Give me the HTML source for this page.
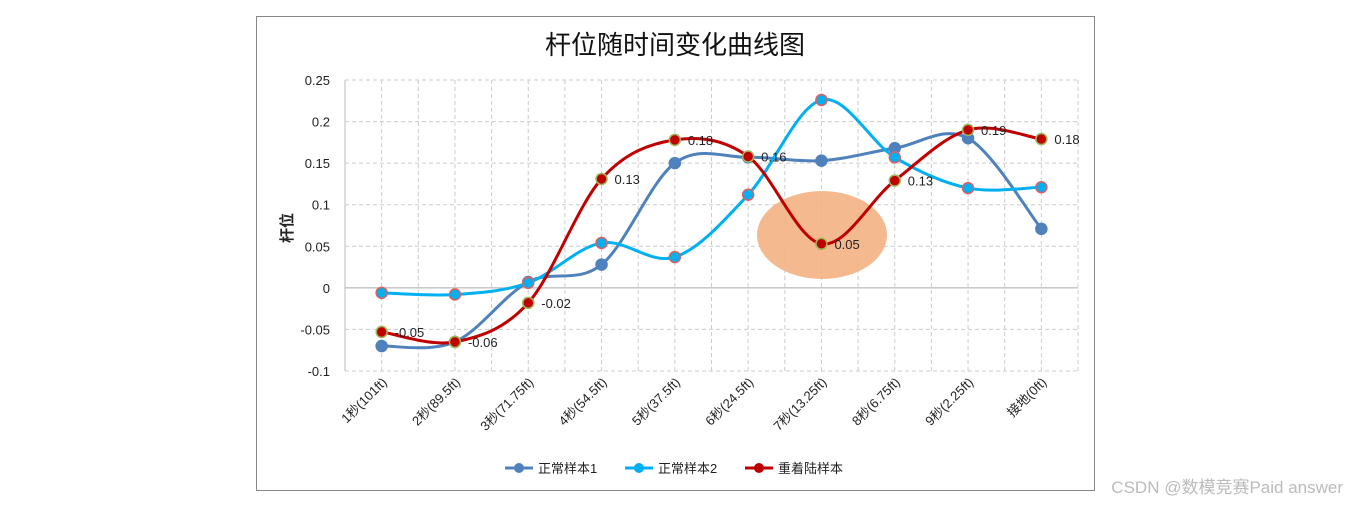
<!DOCTYPE html>
<html><head><meta charset="utf-8"><style>
body{margin:0;background:#fff;}
svg text{font-family:"Liberation Sans","Noto Sans CJK SC",sans-serif;}
</style></head><body>
<svg width="1359" height="506" viewBox="0 0 1359 506">
<rect x="256.5" y="16.5" width="838" height="474" fill="#fff" stroke="#888"/>
<text x="675" y="54" font-size="26" text-anchor="middle" font-family="Liberation Serif,'Noto Serif CJK SC',serif" fill="#111">杆位随时间变化曲线图</text>
<text transform="translate(292,228) rotate(-90)" font-size="15" text-anchor="middle" font-weight="bold" fill="#222" font-family="'Noto Serif CJK SC',serif">杆位</text>
<g id="grid"></g><g id="yt"></g><g id="xt"></g>
<ellipse cx="822" cy="235" rx="65" ry="44" fill="#F4B183" opacity="0.9"/>
<g id="series"></g>
<g font-size="13" fill="#222">
<line x1="505" y1="468" x2="533" y2="468" stroke="#4F81BD" stroke-width="3"/><circle cx="519" cy="468" r="5" fill="#4F81BD"/><text x="538" y="473">正常样本1</text>
<line x1="625" y1="468" x2="653" y2="468" stroke="#00B0F0" stroke-width="3"/><circle cx="639" cy="468" r="5" fill="#00B0F0"/><text x="658" y="473">正常样本2</text>
<line x1="745" y1="468" x2="773" y2="468" stroke="#C00000" stroke-width="3"/><circle cx="759" cy="468" r="5" fill="#C00000"/><text x="778" y="473">重着陆样本</text>
</g>
<text x="1343" y="493" font-size="17" fill="#bbb" text-anchor="end">CSDN @数模竞赛Paid answer</text>
</svg>
<script>
const categories=["1秒(101ft)","2秒(89.5ft)","3秒(71.75ft)","4秒(54.5ft)","5秒(37.5ft)","6秒(24.5ft)","7秒(13.25ft)","8秒(6.75ft)","9秒(2.25ft)","接地(0ft)"];
const s1=[-0.07,-0.065,0.007,0.028,0.15,0.157,0.153,0.168,0.18,0.071];
const s2=[-0.006,-0.008,0.006,0.054,0.037,0.112,0.226,0.157,0.12,0.121];
const s3=[-0.053,-0.065,-0.018,0.131,0.178,0.158,0.053,0.129,0.19,0.179];
const s3labels=["-0.05","-0.06","-0.02","0.13","0.18","0.16","0.05","0.13","0.19","0.18"];
const yTicks=[0.25,0.2,0.15,0.1,0.05,0,-0.05,-0.1];
const yTickLabels=["0.25","0.2","0.15","0.1","0.05","0","-0.05","-0.1"];
const L=345,R=1078,T=80,B=371,ymin=-0.1,ymax=0.25;
const step=(R-L)/categories.length;
const X=i=>L+step*(i+0.5);
const Y=v=>B-(v-ymin)/(ymax-ymin)*(B-T);
const NS="http://www.w3.org/2000/svg";
function mk(t,a,p){const e=document.createElementNS(NS,t);for(const k in a)e.setAttribute(k,a[k]);p.appendChild(e);return e;}
const g=document.getElementById('grid');
for(let k=0;k<=categories.length*2;k++){const x=L+k*step/2;
const l=mk('line',{x1:x,x2:x,y1:T,y2:B,stroke:k==0?'#bbb':'#ccc','stroke-dasharray':k==0?'':'4,3'},g);

}
const yt=document.getElementById('yt');
yTicks.forEach((v,i)=>{const l=mk('line',{x1:L,x2:R,y1:Y(v),y2:Y(v),stroke:v==0?'#aaa':'#ccc','stroke-dasharray':v==0?'':'4,3'},g);


const t=mk('text',{x:330,y:Y(v)+5,'font-size':13,'text-anchor':'end',fill:'#222'},yt);t.textContent=yTickLabels[i];

});
const xt=document.getElementById('xt');
categories.forEach((c,i)=>{const t=mk('text',{transform:`translate(${X(i)+6},${B+12}) rotate(-45)`,'font-size':13,'text-anchor':'end',fill:'#222'},xt);t.textContent=c;

});
function path(vals){const p=vals.map((v,i)=>[X(i),Y(v)]);let d=`M${p[0][0]},${p[0][1]}`;
for(let i=0;i<p.length-1;i++){const p0=p[i-1]||p[i],p1=p[i],p2=p[i+1],p3=p[i+2]||p2;const t=6;
d+=` C${p1[0]+(p2[0]-p0[0])/t},${p1[1]+(p2[1]-p0[1])/t} ${p2[0]-(p3[0]-p1[0])/t},${p2[1]-(p3[1]-p1[1])/t} ${p2[0]},${p2[1]}`;}return d;}
const sg=document.getElementById('series');
[[s1,'#4F81BD','#4F81BD','series-1'],[s2,'#00B0F0','#E06060','series-2'],[s3,'#C00000','#9BBB59','series-3']].forEach(([vals,col,bd,name])=>{
const p=mk('path',{d:path(vals),fill:'none',stroke:col,'stroke-width':3},sg);


vals.forEach((v,i)=>{const c=mk('circle',{cx:X(i),cy:Y(v),r:5.5,fill:col,stroke:bd,'stroke-width':1.5},sg);

});});
s3.forEach((v,i)=>{const t=mk('text',{x:X(i)+13,y:Y(v)+5,'font-size':13,fill:'#222'},sg);t.textContent=s3labels[i];

});
</script>
</body></html>
